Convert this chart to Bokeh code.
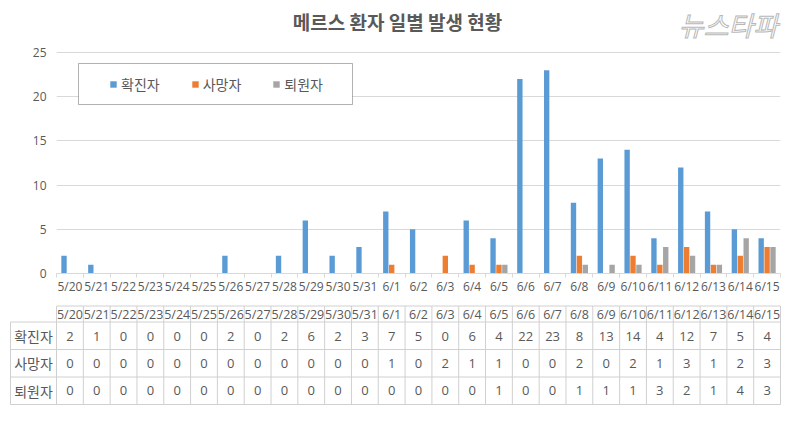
from bokeh.plotting import figure
from bokeh.layouts import column
from bokeh.models import (Range1d, FixedTicker, Label, Legend, LegendItem,
                          BoxAnnotation, ColumnDataSource)
from bokeh.embed import file_html
from bokeh.resources import INLINE
from bokeh.core.properties import value

# ---------------- data ----------------
dates = ["5/20", "5/21", "5/22", "5/23", "5/24", "5/25", "5/26", "5/27", "5/28",
         "5/29", "5/30", "5/31", "6/1", "6/2", "6/3", "6/4", "6/5", "6/6", "6/7",
         "6/8", "6/9", "6/10", "6/11", "6/12", "6/13", "6/14", "6/15"]
confirmed = [2, 1, 0, 0, 0, 0, 2, 0, 2, 6, 2, 3, 7, 5, 0, 6, 4, 22, 23, 8, 13, 14, 4, 12, 7, 5, 4]
deaths = [0, 0, 0, 0, 0, 0, 0, 0, 0, 0, 0, 0, 1, 0, 2, 1, 1, 0, 0, 2, 0, 2, 1, 3, 1, 2, 3]
discharged = [0, 0, 0, 0, 0, 0, 0, 0, 0, 0, 0, 0, 0, 0, 0, 0, 1, 0, 0, 1, 1, 1, 3, 2, 1, 4, 3]
series_names = ["확진자", "사망자", "퇴원자"]
series_colors = ["#5B9BD5", "#ED7D31", "#A5A5A5"]
y_ticks = [0, 5, 10, 15, 20, 25]
title_text = "메르스 환자 일별 발생 현황"
logo_text = "뉴스타파"

KR = "Noto Sans CJK KR"
NUM = "Open Sans"
TXT = "#595959"
GRID = "#d9d9d9"

W = 793
H_A = 298
H_B = 146
LEFT = 56
RIGHT = 13
BOTTOM_A = 25
n = len(dates)
idx = list(range(n))
unit = (W - LEFT - RIGHT) / n
frame_h = H_A - BOTTOM_A
px_per_val = 221 / 25.0

# ---------------- chart ----------------
p = figure(width=W, height=H_A, output_backend="svg", toolbar_location=None,
           title=None, x_range=Range1d(-0.5, n - 0.5),
           y_range=Range1d(0, frame_h / px_per_val),
           min_border_left=LEFT, min_border_right=RIGHT,
           min_border_top=0, min_border_bottom=BOTTOM_A)
p.frame_align = False
p.outline_line_color = None
p.background_fill_color = "white"
p.border_fill_color = "white"

offsets = [-0.22, 0.0, 0.22]
renderers = []
for vals, off, col in zip([confirmed, deaths, discharged], offsets, series_colors):
    src = ColumnDataSource(dict(x=[i + off for i in idx], top=vals))
    r = p.vbar(x="x", top="top", width=0.2, source=src, fill_color=col, line_color=None)
    renderers.append(r)

# axes
p.xaxis.ticker = FixedTicker(ticks=idx, minor_ticks=[i - 0.5 for i in range(n + 1)])
p.xaxis.major_label_overrides = {i: d for i, d in zip(idx, dates)}
p.xaxis.major_tick_out = 0
p.xaxis.major_tick_in = 0
p.xaxis.minor_tick_out = 4
p.xaxis.minor_tick_in = 0
p.xaxis.minor_tick_line_color = GRID
p.xaxis.axis_line_color = GRID
p.xaxis.major_label_standoff = 0
p.xaxis.major_label_text_font = NUM
p.xaxis.major_label_text_font_size = "12px"
p.xaxis.major_label_text_color = TXT
p.xgrid.grid_line_color = None

p.yaxis.ticker = FixedTicker(ticks=y_ticks)
p.yaxis.major_tick_out = 0
p.yaxis.major_tick_in = 0
p.yaxis.minor_tick_line_color = None
p.yaxis.axis_line_color = None
p.yaxis.major_label_standoff = 10
p.yaxis.major_label_text_font = NUM
p.yaxis.major_label_text_font_size = "12px"
p.yaxis.major_label_text_color = TXT
p.ygrid.grid_line_color = GRID
p.ygrid.grid_line_width = 1

# title & logo (screen units relative to frame: x from frame left, y up from frame bottom)
p.add_layout(Label(x=397 - LEFT, y=frame_h - 21, x_units="screen", y_units="screen",
                   text=title_text, text_align="center", text_baseline="middle",
                   text_font=KR, text_font_style="bold", text_font_size="19px",
                   text_color=TXT))
p.add_layout(Label(x=728 - LEFT, y=frame_h - 24, x_units="screen", y_units="screen",
                   text=logo_text, text_align="center", text_baseline="middle",
                   text_font=KR, text_font_style="italic", text_font_size="27px",
                   text_color="white", text_outline_color="#b8b8b8"))

# legend box
box = BoxAnnotation(left=78 - LEFT, right=352 - LEFT, top=frame_h - 63, bottom=frame_h - 104,
                    left_units="screen", right_units="screen",
                    top_units="screen", bottom_units="screen",
                    fill_color="white", fill_alpha=1.0, line_color="black", line_width=1,
                    level="annotation")
p.add_layout(box)

legend = Legend(items=[LegendItem(label=nm, renderers=[r]) for nm, r in zip(series_names, renderers)],
                location=(109 - LEFT, frame_h - 94), orientation="horizontal",
                padding=0, margin=0, spacing=31, glyph_width=8, glyph_height=8,
                label_standoff=4, border_line_color=None, background_fill_alpha=0,
                label_text_font=KR, label_text_font_size="14px", label_text_color=TXT)
p.add_layout(legend)

# ---------------- data table ----------------
xl = -0.5 - LEFT / unit
xr = n - 0.5 + RIGHT / unit
t = figure(width=W, height=H_B, output_backend="svg", toolbar_location=None,
           title=None, x_range=Range1d(xl, xr), y_range=Range1d(H_B, 0),
           min_border_left=0, min_border_right=0, min_border_top=0, min_border_bottom=0,
           x_axis_location=None, y_axis_location=None)
t.frame_align = False
t.outline_line_color = None
t.xgrid.grid_line_color = None
t.ygrid.grid_line_color = None
t.background_fill_color = "white"
t.border_fill_color = "white"

LINE = "#d0d0d0"
def px2x(px):
    return (px - LEFT) / unit - 0.5

y_top, y_hdr, y_r1, y_r2, y_r3 = 7.5, 23.5, 51.0, 78.5, 106.0
x_lab = px2x(10)
bounds = [i - 0.5 for i in range(n + 1)]
# horizontal lines
t.segment(x0=[bounds[0]] + [x_lab] * 4, x1=[bounds[-1]] * 5,
          y0=[y_top, y_hdr, y_r1, y_r2, y_r3], y1=[y_top, y_hdr, y_r1, y_r2, y_r3],
          line_color=LINE, line_width=1)
# vertical lines
t.segment(x0=bounds + [x_lab], x1=bounds + [x_lab],
          y0=[y_top] * len(bounds) + [y_hdr], y1=[y_r3] * (len(bounds) + 1),
          line_color=LINE, line_width=1)

# header
t.text(x=idx, y=[16.0] * n, text=dates, text_align="center", text_baseline="middle",
       text_font=value(NUM), text_font_size="12.5px", text_color=TXT)
row_y = [37.5, 64.5, 92.0]
for vals, ry in zip([confirmed, deaths, discharged], row_y):
    t.text(x=idx, y=[ry] * n, text=[str(v) for v in vals], text_align="center",
           text_baseline="middle", text_font=value(NUM), text_font_size="13px",
           text_color=TXT)
t.text(x=[px2x(33)] * 3, y=row_y, text=series_names, text_align="center",
       text_baseline="middle", text_font=value(KR), text_font_size="14px",
       text_color=TXT)

layout = column(p, t, spacing=0)
open("out.html", "w").write(file_html(layout, INLINE))
